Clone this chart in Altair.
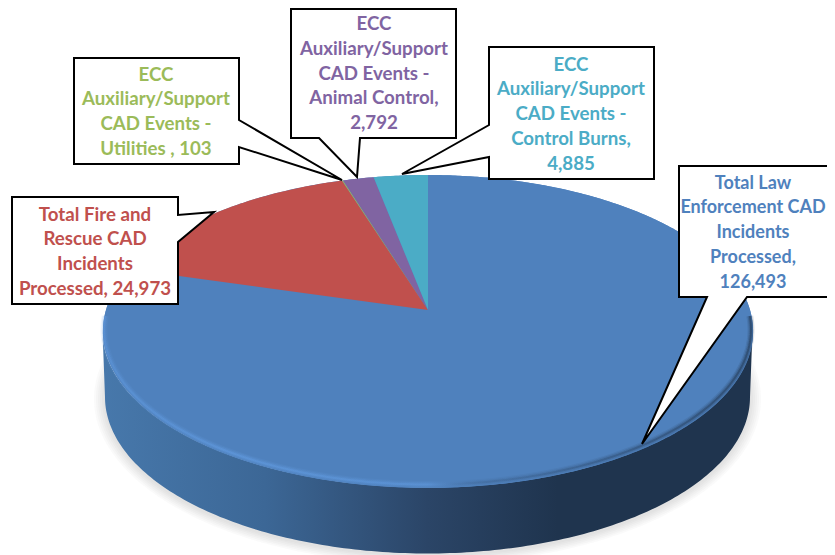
import math
import altair as alt

categories = ["Total Law Enforcement CAD Incidents Processed",
              "Total Fire and Rescue CAD Incidents Processed",
              "ECC Auxiliary/Support CAD Events - Utilities",
              "ECC Auxiliary/Support CAD Events - Animal Control",
              "ECC Auxiliary/Support CAD Events - Control Burns"]
values = [126493, 24973, 103, 2792, 4885]
colors = ["#4f81bd", "#c0504d", "#9bbb59", "#8064a2", "#4bacc6"]
label_lines = [
    ["Total Law", "Enforcement CAD", "Incidents", "Processed,", "126,493"],
    ["Total Fire and", "Rescue CAD", "Incidents", "Processed, 24,973"],
    ["ECC", "Auxiliary/Support", "CAD Events -", "Utilities , 103"],
    ["ECC", "Auxiliary/Support", "CAD Events -", "Animal Control,", "2,792"],
    ["ECC", "Auxiliary/Support", "CAD Events -", "Control Burns,", "4,885"],
]

# layout: page pixels (the drawable page ends at x=827)
W, H = 827, 555
M = 8
CX, CY = 428, 310
R, S, K = 322, 153.5, 0.137
boxes = [
    dict(l=679, t=166, r=850, b=297, tail=("b", (707, 297), (642, 444), (747, 297)), tx=753, ty=183.5, fs=18),
    dict(l=12, t=197, r=178, b=304, tail=("r", (178, 215), (214, 212), (178, 242)), tx=95, ty=214.5, fs=18.7),
    dict(l=74, t=58, r=239, b=164, tail=("r", (239, 120), (342, 180), (239, 147)), tx=156, ty=74.5, fs=18.7),
    dict(l=291, t=9, r=456, b=138, tail=("b", (319, 138), (357, 177), (360, 138)), tx=374, ty=24, fs=18.7),
    dict(l=489, t=47, r=654, b=179, tail=("l", (489, 125), (402, 174), (489, 157)), tx=571, ty=64.5, fs=18.7),
]
LINE = 24.8


def face(frac):
    t = 2 * math.pi * frac
    u, v = math.sin(t), math.cos(t)
    w = 1 + K * v
    return [CX + R * u / w, CY - S * v / w]


def feature(coords, name="", kind="Polygon"):
    geom = {"type": kind, "coordinates": [coords] if kind == "Polygon" else coords}
    return {"type": "Feature", "geometry": geom, "properties": {"name": name}}


total = sum(values)
cum = [0.0]
for v in values:
    cum.append(cum[-1] + v / total)

wedges = []
for i, name in enumerate(categories):
    n = max(2, int((cum[i + 1] - cum[i]) * 360) + 2)
    arc = [face(cum[i] + (cum[i + 1] - cum[i]) * j / n) for j in range(n + 1)]
    wedges.append(feature([[CX, CY]] + arc + [[CX, CY]], name))

full = [face(j / 720) for j in range(721)]
UE = (CX - 0.5, 331, 325, 156.5)    # upper face ellipse
LE = (CX - 0.5, 397, 322.5, 156.5)  # lower edge ellipse


def ell(e, a):
    return [e[0] + e[2] * math.cos(a), e[1] + e[3] * math.sin(a)]


front_up = [ell(UE, math.pi * j / 180) for j in range(0, 181)]
front_lo = [ell(LE, math.pi * j / 180) for j in range(180, -1, -1)]
wall = front_up + front_lo + [front_up[0]]


def geo(feats, **mark):
    mark.setdefault("strokeWidth", 0)
    return alt.Chart(alt.Data(values=feats)).mark_geoshape(**mark).project(
        type="identity", scale=1, translate=[-M, -M])


layers = []
for g in (11, 9, 7, 5, 3, 1):
    sh = (LE[0], LE[1] + 2, LE[2] + g, LE[3] + g * 0.8)
    layers.append(geo([feature([ell(sh, math.pi * j / 180) for j in range(361)])],
                      fill="#808080", fillOpacity=0.045))

wall_grad = alt.Gradient(gradient="linear", x1=0, y1=0, x2=1, y2=0, stops=[
    alt.GradientStop(offset=0, color="#4778ab"),
    alt.GradientStop(offset=0.25, color="#3c6796"),
    alt.GradientStop(offset=0.5, color="#2b4567"),
    alt.GradientStop(offset=0.7, color="#1f344e"),
    alt.GradientStop(offset=1, color="#1f344e"),
])
layers.append(geo([feature(wall)], fill=wall_grad))
layers.append(geo([feature(full)], fill=colors[0]))

wedge_chart = alt.Chart(alt.Data(values=wedges)).mark_geoshape(strokeWidth=0).encode(
    color=alt.Color("properties.name:N",
                    scale=alt.Scale(domain=categories, range=colors), legend=None)
).project(type="identity", scale=1, translate=[-M, -M])
layers.append(wedge_chart)

# bevelled rim along the front edge of the face
rim_arc = [ell((UE[0], UE[1] - 1.5, UE[2] - 1.5, UE[3] - 1.5), math.pi * j / 180)
           for j in range(-5, 186)]


def rim_grad(a):
    return alt.Gradient(gradient="linear", x1=0, y1=0, x2=1, y2=0, stops=[
        alt.GradientStop(offset=0, color=f"rgba(98,156,226,{a * 0.7})"),
        alt.GradientStop(offset=0.2, color=f"rgba(98,156,226,{a})"),
        alt.GradientStop(offset=0.5, color=f"rgba(98,156,226,{a * 0.8})"),
        alt.GradientStop(offset=0.62, color=f"rgba(31,52,78,{a * 0.3})"),
        alt.GradientStop(offset=0.85, color=f"rgba(31,52,78,{a * 0.7})"),
        alt.GradientStop(offset=1, color=f"rgba(31,52,78,{a})"),
    ])


for width, a in ((7, 0.14), (4.5, 0.24), (2, 0.45)):
    layers.append(geo([feature(rim_arc, kind="LineString")], filled=False,
                      stroke=rim_grad(a), strokeWidth=width, strokeCap="butt"))

# callouts
box_feats = []
for b in boxes:
    l, t, r, bt = b["l"], b["t"], b["r"], b["b"]
    side, p1, tip, p2 = b["tail"]
    if side == "b":
        pts = [[l, t], [r, t], [r, bt], list(p2), list(tip), list(p1), [l, bt], [l, t]]
    elif side == "r":
        pts = [[l, t], [r, t], list(p1), list(tip), list(p2), [r, bt], [l, bt], [l, t]]
    else:
        pts = [[l, t], [r, t], [r, bt], [l, bt], list(p2), list(tip), list(p1), [l, t]]
    box_feats.append(feature(pts))
layers.append(geo(box_feats, fill="#ffffff", stroke="#000000", strokeWidth=2,
                  strokeJoin="miter"))

rows = []
for i, lines in enumerate(label_lines):
    for j, s in enumerate(lines):
        rows.append({"x": boxes[i]["tx"], "y": boxes[i]["ty"] + j * LINE, "t": s,
                     "c": categories[i], "fs": boxes[i]["fs"]})
text = alt.Chart(alt.Data(values=rows)).mark_text(
    font="Lato", fontWeight="bold", align="center", baseline="middle"
).encode(
    x=alt.X("x:Q", scale=alt.Scale(domain=[M, W], nice=False, zero=False), axis=None),
    y=alt.Y("y:Q", scale=alt.Scale(domain=[M, H], nice=False, zero=False, reverse=True), axis=None),
    text="t:N",
    size=alt.Size("fs:Q", scale=None, legend=None),
    color=alt.Color("c:N", scale=alt.Scale(domain=categories, range=colors), legend=None),
)
layers.append(text)

chart = alt.layer(*layers).resolve_scale(color="shared").properties(
    width=W - M, height=H - M, padding=0, background="#ffffff",
    autosize=alt.AutoSizeParams(type="none"),
).configure_view(stroke=None)

chart.save("out.html", embed_options={"renderer": "svg", "actions": False})
